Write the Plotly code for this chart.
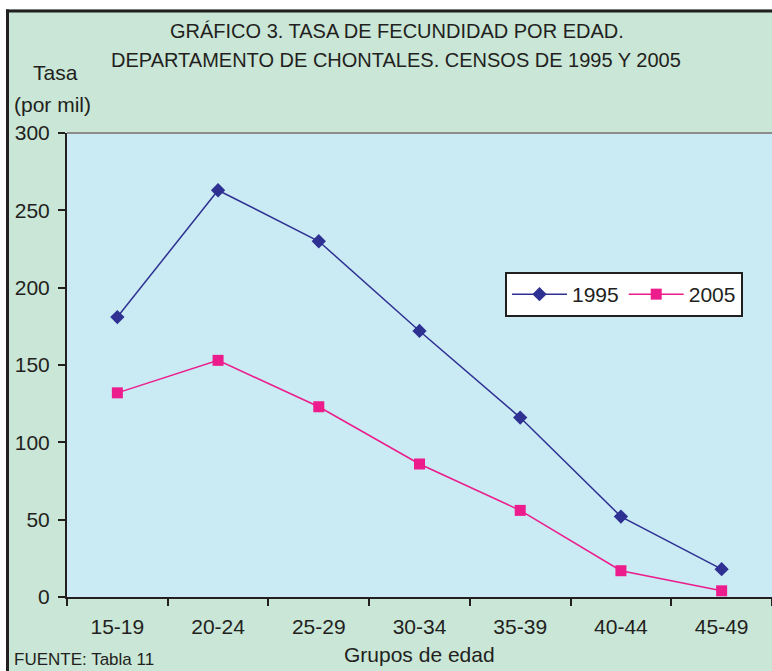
import plotly.graph_objects as go

categories = ["15-19", "20-24", "25-29", "30-34", "35-39", "40-44", "45-49"]
tasa_1995 = [181, 263, 230, 172, 116, 52, 18]
tasa_2005 = [132, 153, 123, 86, 56, 17, 4]
y_ticks = [0, 50, 100, 150, 200, 250, 300]

W, H = 772, 671
L, R, T, B = 67, 0, 133, 74
PW, PH = W - L - R, H - T - B

def px(x):
    return (x - L) / PW

def py(y):
    return (H - B - y) / PH

FONT = "Liberation Sans, Arial, sans-serif"
INK = "#231F20"

fig = go.Figure()
fig.add_trace(go.Scatter(
    x=categories, y=tasa_1995, name="1995", mode="lines+markers",
    line=dict(color="#2E3192", width=1.5),
    marker=dict(symbol="diamond", size=11, color="#2E3192"),
))
fig.add_trace(go.Scatter(
    x=categories, y=tasa_2005, name="2005", mode="lines+markers",
    line=dict(color="#EC1C8C", width=1.5),
    marker=dict(symbol="square", size=11, color="#EC1C8C"),
))

fig.update_layout(
    width=W, height=H,
    margin=dict(l=L, r=R, t=T, b=B, pad=0),
    paper_bgcolor="#C9E6D6",
    plot_bgcolor="#CAEAF4",
    font=dict(family=FONT, size=21, color=INK),
    showlegend=True,
    legend=dict(
        orientation="h", x=px(505), y=py(272), xanchor="left", yanchor="top",
        bgcolor="white", bordercolor=INK, borderwidth=2,
        font=dict(size=21), itemwidth=55, tracegroupgap=0,
    ),
    xaxis=dict(
        type="category", range=[-0.5, 6.5], showgrid=False,
        showline=True, linecolor=INK, linewidth=2,
        ticks="outside", tickson="boundaries", ticklen=7, tickcolor=INK, tickwidth=2,
        tickfont=dict(size=21), ticklabelstandoff=10, zeroline=False, fixedrange=True,
    ),
    yaxis=dict(
        range=[0, 300], tickvals=y_ticks, showgrid=False,
        showline=True, linecolor=INK, linewidth=2,
        ticks="outside", ticklen=7, tickcolor=INK, tickwidth=2,
        tickfont=dict(size=21), ticklabelstandoff=4, zeroline=False, fixedrange=True,
    ),
)

shapes = [
    # top border of plot area (gray)
    dict(type="line", xref="paper", yref="paper", x0=0, x1=1, y0=1, y1=1,
         line=dict(color="#8C8C8C", width=2)),
    # white strips outside the chart frame
    dict(type="rect", xref="paper", yref="paper", x0=px(-5), x1=px(W + 5), y0=py(-5), y1=py(9),
         fillcolor="white", line=dict(width=0), layer="above"),
    dict(type="rect", xref="paper", yref="paper", x0=px(-5), x1=px(6), y0=py(H + 5), y1=py(-5),
         fillcolor="white", line=dict(width=0), layer="above"),
    # dark frame lines
    dict(type="line", xref="paper", yref="paper", x0=px(6), x1=px(W + 5), y0=py(11), y1=py(11),
         line=dict(color=INK, width=3), layer="above"),
    dict(type="line", xref="paper", yref="paper", x0=px(7.5), x1=px(7.5), y0=py(9.5), y1=py(H + 5),
         line=dict(color=INK, width=3), layer="above"),
]
fig.update_layout(shapes=shapes)

annotations = [
    dict(text="GRÁFICO 3. TASA DE FECUNDIDAD POR EDAD.", x=px(397), y=py(31), size=20),
    dict(text="DEPARTAMENTO DE CHONTALES. CENSOS DE 1995 Y 2005", x=px(396), y=py(60), size=20),
    dict(text="Tasa", x=px(55), y=py(72)),
    dict(text="(por mil)", x=px(52), y=py(104)),
    dict(text="Grupos de edad", x=px(419), y=py(654)),
    dict(text="FUENTE: Tabla 11", x=px(84), y=py(659), size=17),
]
for a in annotations:
    fig.add_annotation(
        text=a["text"], x=a["x"], y=a["y"], xref="paper", yref="paper",
        xanchor="center", yanchor="middle", showarrow=False,
        font=dict(family=FONT, size=a.get("size", 21), color=INK),
    )

fig.write_html("out.html", config={"displayModeBar": False},
               post_script="document.body.style.margin='0px';")
